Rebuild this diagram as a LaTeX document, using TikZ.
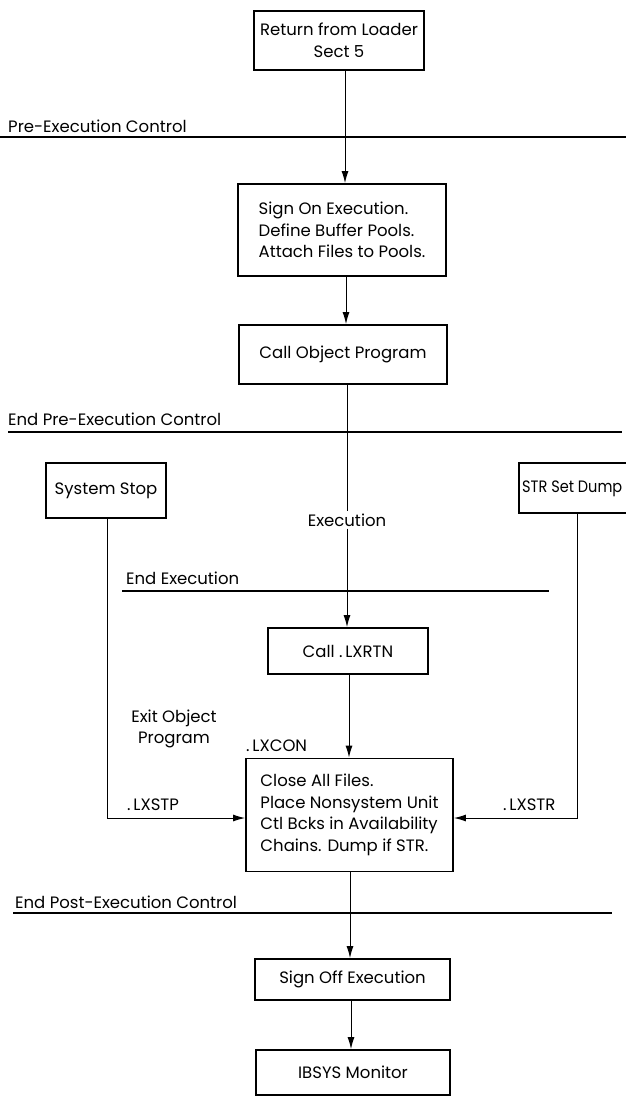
\documentclass[tikz,border=0pt]{standalone}
\usepackage{fontspec}
\setmainfont{Poppins}
\usetikzlibrary{arrows.meta}
\begin{document}
\begin{tikzpicture}[x=1pt,y=-1pt,
  font=\fontsize{16.5}{21.5}\selectfont,
  box/.style={draw, line width=1.8pt, inner sep=0pt},
  flow/.style={line width=1pt},
  arr/.style={flow, -{Latex[length=12pt,width=7pt]}},
  sect/.style={line width=1.1pt},
  lbl/.style={inner sep=0pt, anchor=base west}]
\clip (0,0) rectangle (626,1097);
\fill[white] (0,0) rectangle (626,1097);

% process boxes
\node[box, minimum width=170pt, minimum height=59pt, align=center] (ret) at (339,40.5)
  {Return from Loader\\Sect 5};
\node[box, minimum width=208pt, minimum height=92pt, align=left] (sign) at (342,230)
  {Sign On Execution.\\Define Buffer Pools.\\Attach Files to Pools.};
\node[box, minimum width=208pt, minimum height=59pt] (callobj) at (343,354.5)
  {Call Object Program};
\node[box, minimum width=120pt, minimum height=55pt] (stop) at (106,490.5)
  {System Stop};
\node[box, minimum width=131pt, minimum height=50pt] (str) at (584.5,488) {};
\node[lbl, anchor=west] (strtxt) at (522,489)
  {\addfontfeature{FakeStretch=0.88}STR Set Dump};
\node[box, minimum width=160pt, minimum height=46pt] (lxrtn) at (348,651)
  {Call .\,LXRTN};
\node[box, minimum width=207pt, minimum height=113pt, align=left] (close) at (349.5,815)
  {Close All Files.\\Place Nonsystem Unit\\Ctl Bcks in Availability\\Chains. Dump if STR.};
\node[box, minimum width=195pt, minimum height=41pt] (off) at (352.5,979.5)
  {Sign Off Execution};
\node[box, minimum width=194pt, minimum height=45pt] (ibsys) at (353,1072.5)
  {IBSYS Monitor};

% phase boundaries
\coordinate (p1a) at (0,137);   \coordinate (p1b) at (626,137);
\coordinate (p2a) at (8,432);   \coordinate (p2b) at (622,432);
\coordinate (p3a) at (122,591); \coordinate (p3b) at (549,591);
\coordinate (p4a) at (13,913);  \coordinate (p4b) at (612,913);
\draw[sect] (p1a) -- (p1b);
\draw[sect] (p2a) -- (p2b);
\draw[sect] (p3a) -- (p3b);
\draw[sect] (p4a) -- (p4b);
\node[lbl] (l1) at (8,132) {Pre-Execution Control};
\node[lbl] (l2) at (8,425) {End Pre-Execution Control};
\node[lbl] (l3) at (126,584) {End Execution};
\node[lbl] (l4) at (15,908) {End Post-Execution Control};

% labels along the flow
\node[inner sep=2pt] (exec) at (347,520) {Execution};
\node[align=center, inner sep=0pt] (exitobj) at (174,729) {Exit Object\\Program};
\node[lbl] (lxcon) at (246,751) {.\,LXCON};
\node[lbl] (lxstp) at (127,810) {.\,LXSTP};
\node[lbl] (lxstr) at (503,810) {.\,LXSTR};

% main flow
\coordinate (c1) at (345,0);
\coordinate (c2) at (346,0);
\coordinate (c3) at (347,0);
\coordinate (c4) at (349,0);
\coordinate (c5) at (350,0);
\coordinate (c6) at (351,0);
\draw[arr] (ret.south -| c1) -- (sign.north -| c1);
\draw[arr] (sign.south -| c2) -- (callobj.north -| c2);
\draw[flow] (callobj.south -| c3) -- (exec.north -| c3);
\draw[arr] (exec.south -| c3) -- (lxrtn.north -| c3);
\draw[arr] (lxrtn.south -| c4) -- (close.north -| c4);
\draw[arr] (close.south -| c5) -- (off.north -| c5);
\draw[arr] (off.south -| c6) -- (ibsys.north -| c6);

% side entries into the post-execution box
\coordinate (sx) at (107,818);
\coordinate (rx) at (577,818);
\draw[arr] (stop.south -| sx) -- (sx) -- (close.west |- sx);
\draw[arr] (str.south -| rx) -- (rx) -- (close.east |- rx);
\end{tikzpicture}
\end{document}
